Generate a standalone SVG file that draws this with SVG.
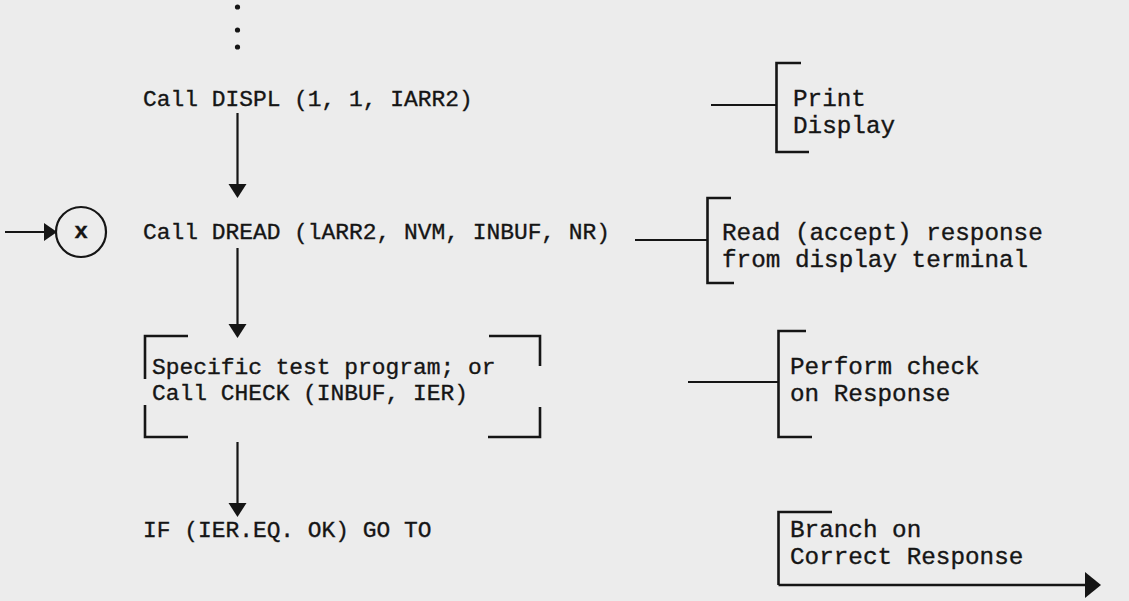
<svg xmlns="http://www.w3.org/2000/svg" width="1129" height="601" viewBox="0 0 1129 601">
  <style>
    .t { font-family: "Courier New", "Nimbus Mono PS", "Liberation Mono", monospace; font-size: 22.9px; fill: #151515; stroke: #151515; stroke-width: 0.35; }
    .r { font-size: 24.3px; }
    .ln { stroke: #151515; stroke-width: 2.2; fill: none; }
    .br { stroke: #151515; stroke-width: 2.6; fill: none; }
    .ah { fill: #151515; }
  </style>
  <rect x="0" y="0" width="1129" height="601" fill="#ececec"/>

  <g id="continuation">
    <circle cx="237.5" cy="7" r="2.6" fill="#151515"/>
    <circle cx="237.5" cy="30" r="2.6" fill="#151515"/>
    <circle cx="237.5" cy="47" r="2.6" fill="#151515"/>
  </g>

  <g id="n-displ">
    <text class="t" x="143" y="106">Call DISPL (1, 1, IARR2)</text>
  </g>

  <g id="n-entry-x">
    <circle cx="81" cy="232" r="25" class="ln"/>
    <text class="t" x="81" y="238" text-anchor="middle" font-weight="bold">x</text>
  </g>

  <g id="n-dread">
    <text class="t" x="143" y="239">Call DREAD (lARR2, NVM, INBUF, NR)</text>
  </g>

  <g id="n-check">
    <path class="br" d="M188,336 H145 V379 M145,405 V437 H188"/>
    <path class="br" d="M489,336 H540 V366 M540,407 V437 H488"/>
    <text class="t" x="152" y="374">Specific test program; or</text>
    <text class="t" x="152" y="400">Call CHECK (INBUF, IER)</text>
  </g>

  <g id="n-if">
    <text class="t" x="143" y="537">IF (IER.EQ. OK) GO TO</text>
  </g>

  <g id="note-print">
    <path class="br" d="M801,63 H776.5 V152 H809"/>
    <text class="t r" x="793" y="106">Print</text>
    <text class="t r" x="793" y="133">Display</text>
  </g>

  <g id="note-read">
    <path class="br" d="M731,198 H707.5 V283 H734"/>
    <text class="t r" x="722" y="240">Read (accept) response</text>
    <text class="t r" x="722" y="267">from display terminal</text>
  </g>

  <g id="note-perform">
    <path class="br" d="M806,331 H778.5 V437 H812"/>
    <text class="t r" x="790" y="374">Perform check</text>
    <text class="t r" x="790" y="401">on Response</text>
  </g>

  <g id="note-branch">
    <path class="br" d="M832,512 H778.5 V585"/>
    <text class="t r" x="790" y="537">Branch on</text>
    <text class="t r" x="790" y="564">Correct Response</text>
  </g>

  <g id="connectors">
    <line class="ln" x1="237.5" y1="113" x2="237.5" y2="186"/>
    <polygon class="ah" points="228.5,184 246.5,184 237.5,198"/>

    <line class="ln" x1="5" y1="232" x2="47" y2="232"/>
    <polygon class="ah" points="44,223 44,241 57,232"/>

    <line class="ln" x1="237.5" y1="248" x2="237.5" y2="326"/>
    <polygon class="ah" points="228.5,324 246.5,324 237.5,338"/>

    <line class="ln" x1="237.5" y1="442" x2="237.5" y2="505"/>
    <polygon class="ah" points="228.5,503 246.5,503 237.5,517"/>

    <line class="ln" x1="711" y1="105" x2="776.5" y2="105"/>
    <line class="ln" x1="635" y1="240" x2="707.5" y2="240"/>
    <line class="ln" x1="688" y1="382" x2="778.5" y2="382"/>

    <line class="br" x1="778.5" y1="585" x2="1088" y2="585"/>
    <polygon class="ah" points="1085,572 1085,598 1101,585"/>
  </g>
</svg>
